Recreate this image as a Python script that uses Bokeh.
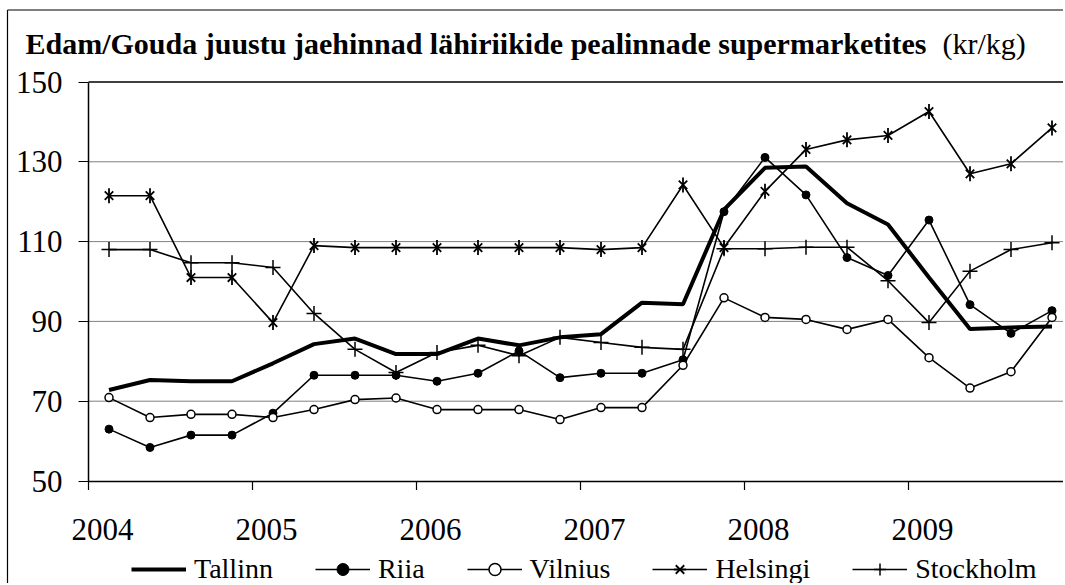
import numpy as np
from bokeh.plotting import figure
from bokeh.models import (Range1d, FixedTicker, LinearAxis, CustomJSTickFormatter,
                          Legend, LegendItem, ColumnDataSource)
from bokeh.core.properties import value
from bokeh.embed import file_html
from bokeh.resources import INLINE

# ---------------- data ----------------
years = [2004, 2005, 2006, 2007, 2008, 2009]
quarters = ["2004Q1", "2004Q2", "2004Q3", "2004Q4",
            "2005Q1", "2005Q2", "2005Q3", "2005Q4",
            "2006Q1", "2006Q2", "2006Q3", "2006Q4",
            "2007Q1", "2007Q2", "2007Q3", "2007Q4",
            "2008Q1", "2008Q2", "2008Q3", "2008Q4",
            "2009Q1", "2009Q2", "2009Q3", "2009Q4"]
tallinn = [72.8, 75.3, 75.0, 75.0, 79.5, 84.3, 85.7, 81.8, 81.8, 85.7, 84.0, 86.0,
           86.8, 94.7, 94.3, 118.0, 128.5, 128.8, 119.6, 114.3, 101.0, 88.1, 88.5, 88.7]
riia = [63.0, 58.4, 61.5, 61.5, 67.0, 76.5, 76.5, 76.5, 75.0, 77.0, 82.6, 75.9,
        77.0, 77.0, 80.4, 117.5, 131.1, 121.7, 106.0, 101.5, 115.4, 94.2, 87.0, 92.7]
vilnius = [70.9, 65.9, 66.7, 66.7, 65.9, 67.9, 70.4, 70.8, 67.9, 67.9, 67.9, 65.4,
           68.4, 68.4, 79.0, 95.9, 91.0, 90.5, 88.0, 90.5, 80.9, 73.3, 77.4, 91.0]
helsingi = [121.5, 121.5, 101.0, 101.0, 89.7, 109.0, 108.5, 108.5, 108.5, 108.5, 108.5, 108.5,
            108.0, 108.5, 124.2, 108.5, 122.6, 133.1, 135.5, 136.6, 142.6, 127.0, 129.5, 138.5]
stockholm = [108.0, 108.0, 104.7, 104.7, 103.5, 92.0, 83.0, 77.2, 82.2, 84.0, 81.4, 86.0,
             84.7, 83.5, 83.0, 108.2, 108.2, 108.6, 108.6, 100.2, 89.7, 102.6, 108.0, 109.7]
y_ticks = [50, 70, 90, 110, 130, 150]
title_bold = "Edam/Gouda juustu jaehinnad lähiriikide pealinnade supermarketites"
title_unit = "(kr/kg)"

# quarter midpoints on a year axis
xq = [int(q[:4]) + (int(q[-1]) - 0.5) / 4.0 for q in quarters]

# ---------------- layout (pixel geometry) ----------------
FONT = "Liberation Serif"
FONT_Q = "'Liberation Serif', 'Times New Roman', serif"
W, H = 1063, 583
AX_LEFT_PX = 88.0       # pixel x of the y axis (year 2004)
TOP_PX = 81.5           # pixel y of value 150
PX_PER_YEAR = 164.0
PX_PER_UNIT = 3.99
Y_MIN, Y_MAX = y_ticks[0], y_ticks[-1]

x0 = years[0] - AX_LEFT_PX / PX_PER_YEAR
x1 = x0 + W / PX_PER_YEAR
y1 = Y_MAX + TOP_PX / PX_PER_UNIT
y0 = y1 - H / PX_PER_UNIT


def px_x(px):
    return x0 + px / PX_PER_YEAR


def px_y(py):
    return y1 - py / PX_PER_UNIT


p = figure(width=W, height=H, output_backend="svg", toolbar_location=None,
           x_range=Range1d(x0, x1), y_range=Range1d(y0, y1),
           x_axis_location=None, y_axis_location=None,
           min_border=0, min_border_left=0, min_border_right=0,
           min_border_top=0, min_border_bottom=0)
p.outline_line_color = None
p.background_fill_color = "white"
p.border_fill_color = "white"
p.xgrid.visible = False
p.ygrid.visible = False

# outer chart border (top & left visible in the crop)
p.segment(x0=[px_x(7), px_x(7)], y0=[px_y(9.5), px_y(9.5)],
          x1=[x1, px_x(7)], y1=[px_y(9.5), y0], line_color="black", line_width=1.2)

# horizontal grid lines
grid_vals = y_ticks[1:-1]
p.segment(x0=[years[0]] * len(grid_vals), y0=grid_vals, x1=[x1] * len(grid_vals),
          y1=grid_vals, line_color="#808080", line_width=1)
# top border of plot area
p.segment(x0=[years[0]], y0=[Y_MAX], x1=[x1], y1=[Y_MAX], line_color="black", line_width=1.3)

# x tick marks at year boundaries
tick_len = 9 / PX_PER_UNIT
p.segment(x0=years, y0=[Y_MIN] * len(years), x1=years, y1=[Y_MIN - tick_len] * len(years),
          line_color="black", line_width=1.2)

# y axis
ya = LinearAxis(fixed_location=years[0], bounds=(Y_MIN, Y_MAX),
                ticker=FixedTicker(ticks=y_ticks),
                major_label_text_font=FONT, major_label_text_font_size="31px",
                major_label_text_color="black", major_tick_out=10, major_tick_in=0,
                minor_tick_line_color=None, major_label_standoff=16,
                axis_line_width=1.5, axis_line_color="black", major_tick_line_color="black")
p.add_layout(ya, "left")

# x axis (line + year labels)
xa = LinearAxis(fixed_location=Y_MIN, bounds=(years[0], x1),
                ticker=FixedTicker(ticks=[y + 0.085 for y in years]),
                formatter=CustomJSTickFormatter(code="return Math.floor(tick).toString();"),
                axis_line_width=1.5, axis_line_color="black",
                major_tick_line_color=None, minor_tick_line_color=None,
                major_tick_out=0, major_tick_in=0, major_label_standoff=38,
                major_label_text_font=FONT, major_label_text_font_size="31px",
                major_label_text_color="black")
p.add_layout(xa, "below")

# series
src = ColumnDataSource(dict(x=xq, tallinn=tallinn, riia=riia, vilnius=vilnius,
                            helsingi=helsingi, stockholm=stockholm))

r_tal = p.line("x", "tallinn", source=src, line_color="black", line_width=4)

r_riia_l = p.line("x", "riia", source=src, line_color="black", line_width=1.6)
r_riia_m = p.scatter("x", "riia", source=src, marker="circle", size=8,
                     fill_color="black", line_color="black")

r_vil_l = p.line("x", "vilnius", source=src, line_color="black", line_width=1.6)
r_vil_m = p.scatter("x", "vilnius", source=src, marker="circle", size=8,
                    fill_color="white", line_color="black", line_width=1.5)

r_hel_l = p.line("x", "helsingi", source=src, line_color="black", line_width=1.6)
r_hel_m1 = p.scatter("x", "helsingi", source=src, marker="x", size=12,
                     line_color="black", line_width=1.8)
r_hel_m2 = p.scatter("x", "helsingi", source=src, marker="dash", size=15, angle=np.pi / 2,
                     line_color="black", line_width=1.8)

r_sto_l = p.line("x", "stockholm", source=src, line_color="black", line_width=1.6)
r_sto_m = p.scatter("x", "stockholm", source=src, marker="cross", size=15,
                    line_color="black", line_width=1.5)

legend = Legend(items=[
    LegendItem(label="Tallinn", renderers=[r_tal]),
    LegendItem(label="Riia", renderers=[r_riia_l, r_riia_m]),
    LegendItem(label="Vilnius", renderers=[r_vil_l, r_vil_m]),
    LegendItem(label="Helsingi", renderers=[r_hel_l, r_hel_m1, r_hel_m2]),
    LegendItem(label="Stockholm", renderers=[r_sto_l, r_sto_m]),
], orientation="horizontal", location=(131, -2),
    glyph_width=55, glyph_height=30, label_height=30, label_standoff=8, spacing=42,
    padding=0, margin=0, border_line_color=None, background_fill_alpha=0,
    label_text_font=FONT_Q, label_text_font_size="28px", label_text_color="black")
p.add_layout(legend)

# title (bold part + unit part)
p.text(x=[px_x(25)], y=[px_y(43)], text=[title_bold], text_font=value(FONT_Q),
       text_font_size="30px", text_font_style="bold", text_color="black",
       text_baseline="alphabetic", text_align="left")
p.text(x=[px_x(942)], y=[px_y(43)], text=[title_unit], text_font=value(FONT_Q),
       text_font_size="30px", text_font_style="normal", text_color="black",
       text_baseline="alphabetic", text_align="left")

open("out.html", "w").write(file_html(p, INLINE))
